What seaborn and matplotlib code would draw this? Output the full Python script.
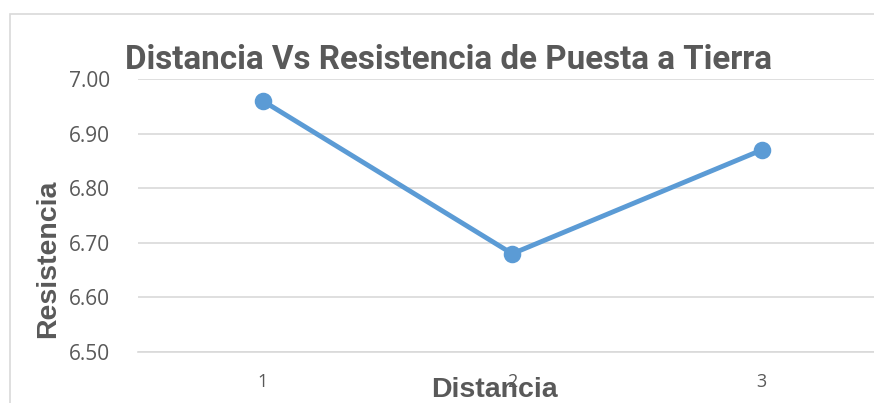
import matplotlib
matplotlib.use("Agg")
import matplotlib.pyplot as plt
from matplotlib.patches import Rectangle
import seaborn as sns
import pandas as pd

# Measurements of grounding resistance at three distances
distancias = ["1", "2", "3"]
resistencias = [6.96, 6.68, 6.87]
yticks = [6.50, 6.60, 6.70, 6.80, 6.90, 7.00]

titulo = "Distancia Vs Resistencia de Puesta a Tierra"
xlabel = "Distancia"
ylabel = "Resistencia"

TEXT = "#595959"
GRID = "#D9D9D9"
LINE = "#5B9BD5"

sns.set_theme(style="white")
plt.rcParams["font.family"] = ["Open Sans", "DejaVu Sans"]

W, H = 874, 403
fig = plt.figure(figsize=(W / 100, H / 100), dpi=100)
fig.patch.set_facecolor("white")

# chart-area frame
fig.patches.append(Rectangle((10 / W, -0.1), 1.2, (H - 14) / H + 0.1,
                             transform=fig.transFigure, fill=False,
                             edgecolor=GRID, linewidth=1.2))

ax = fig.add_axes([138 / W, (H - 352) / H, 748.5 / W, 273 / H])

df = pd.DataFrame({"Distancia": distancias, "Resistencia": resistencias})
sns.pointplot(data=df, x="Distancia", y="Resistencia", ax=ax, color=LINE,
              markers="o", markersize=10, linewidth=3.5)

ax.set_xlim(-0.5, 2.5)
ax.set_ylim(6.50, 7.00)
ax.set_yticks(yticks)
ax.set_yticklabels([f"{v:.2f}" for v in yticks])
ax.grid(axis="y", color=GRID, linewidth=1.2)
ax.grid(axis="x", visible=False)
for side in ["top", "right", "left"]:
    ax.spines[side].set_visible(False)
ax.spines["bottom"].set_color(GRID)
ax.spines["bottom"].set_linewidth(1.2)
ax.set_axisbelow(True)
ax.tick_params(axis="y", length=0, pad=20, labelsize=15, labelcolor=TEXT)
ax.tick_params(axis="x", length=0, pad=15, labelsize=13, labelcolor=TEXT)
ax.set_xlabel("")
ax.set_ylabel("")

fig.text(494.5 / W, 1 - 397 / H, xlabel, ha="center", va="baseline",
         family="Liberation Sans", fontweight="bold", fontsize=20.5,
         color=TEXT)
fig.text(48 / W, 1 - 259 / H, ylabel, ha="center", va="center", rotation=90,
         family="Liberation Sans", fontweight="bold", fontsize=20.5,
         color=TEXT)

t = fig.text(448.5 / W, 1 - 69 / H, titulo, ha="center", va="baseline",
             family="Roboto", fontweight="bold", fontsize=22, color=TEXT)
# fit title width
fig.canvas.draw()
r = fig.canvas.get_renderer()
w = t.get_window_extent(r).width
t.set_fontsize(22 * 647 / w)

fig.savefig("out.png", dpi=100)
